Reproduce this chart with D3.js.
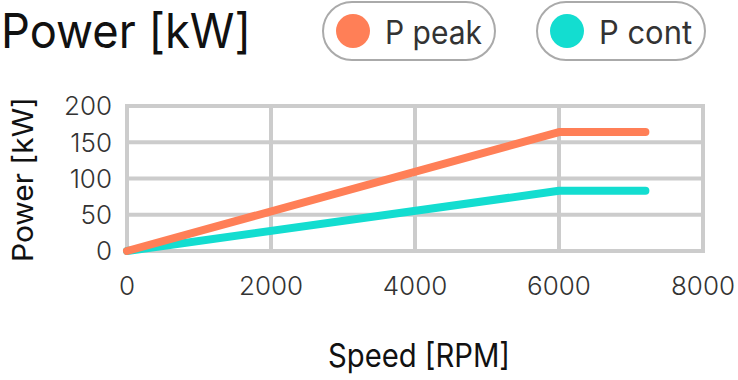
<!DOCTYPE html>
<html>
<head>
<meta charset="utf-8">
<script src="https://cdn.jsdelivr.net/npm/d3@7"></script>
<style>
  html, body { margin: 0; padding: 0; background: #fff; }
  svg { display: block; }
  text { font-family: Inter, "Noto Sans", sans-serif; }
</style>
</head>
<body>
<svg id="chart" width="738" height="380"></svg>
<script>
// ---- data ----
const speedRpm = [0, 6000, 7200];
const pPeak = [0, 164, 164];
const pCont = [0, 83, 83];
const xTicks = [0, 2000, 4000, 6000, 8000];
const yTicks = [0, 50, 100, 150, 200];
const seriesNames = ["P peak", "P cont"];
const seriesColors = ["#ff7f57", "#13ddd0"];
const titleText = "Power [kW]";
const xTitle = "Speed [RPM]";
const yTitle = "Power [kW]";

// ---- layout ----
const svg = d3.select("#chart");
const x = d3.scaleLinear().domain([0, 8000]).range([127, 703]);
const y = d3.scaleLinear().domain([0, 200]).range([251, 106]);

function sized(sel, size, targetWidth) {
  sel.attr("font-size", size).attr("textLength", targetWidth).attr("lengthAdjust", "spacingAndGlyphs");
}

// grid
const grid = svg.append("g").attr("stroke", "#cccccc").attr("stroke-width", 4).attr("stroke-linecap", "square");
grid.selectAll("line.h").data(yTicks).join("line").attr("class", "h")
  .attr("x1", x(0)).attr("x2", x(8000)).attr("y1", d => y(d)).attr("y2", d => y(d));
grid.selectAll("line.v").data(xTicks).join("line").attr("class", "v")
  .attr("x1", d => x(d)).attr("x2", d => x(d)).attr("y1", y(0)).attr("y2", y(200));

// tick labels
svg.append("g").selectAll("text").data(yTicks).join("text")
  .attr("x", 112).attr("y", d => y(d)).attr("dy", "0.36em")
  .attr("text-anchor", "end").attr("fill", "#333").attr("font-size", 26)
  .attr("font-weight", 300)
  .text(d => d);
svg.append("g").selectAll("text").data(xTicks).join("text")
  .attr("x", d => x(d)).attr("y", 295)
  .attr("text-anchor", "middle").attr("fill", "#333").attr("font-size", 26)
  .attr("font-weight", 300)
  .text(d => d);

// lines
const line = d3.line().x((d, i) => x(speedRpm[i])).y(d => y(d));
[[pCont, seriesColors[1]], [pPeak, seriesColors[0]]].forEach(([vals, col]) => {
  svg.append("path").datum(vals).attr("d", line)
    .attr("fill", "none").attr("stroke", col).attr("stroke-width", 8)
    .attr("stroke-linecap", "round").attr("stroke-linejoin", "round");
});

// title
const t = svg.append("text").attr("x", 1).attr("y", 48).attr("fill", "#111").text(titleText);
sized(t, 48, 250);

// axis titles
const xt = svg.append("text").attr("x", 328).attr("y", 367).attr("fill", "#111").text(xTitle);
sized(xt, 32, 182);
const yt = svg.append("text").attr("transform", "translate(33,262) rotate(-90)").attr("fill", "#111").text(yTitle);
sized(yt, 29, 165);

// legend
const legendBoxes = [
  { x0: 323, x1: 495, cx: 353, tx: 385, tw: 97 },
  { x0: 537, x1: 705, cx: 567, tx: 599, tw: 93 }
];
legendBoxes.forEach((b, i) => {
  const g = svg.append("g");
  g.append("rect").attr("x", b.x0).attr("y", 2).attr("width", b.x1 - b.x0).attr("height", 58)
    .attr("rx", 29).attr("fill", "#fff").attr("stroke", "#aaaaaa").attr("stroke-width", 2);
  g.append("circle").attr("cx", b.cx).attr("cy", 31).attr("r", 17).attr("fill", seriesColors[i]);
  const lt = g.append("text").attr("x", b.tx).attr("y", 44).attr("fill", "#333").text(seriesNames[i]);
  sized(lt, 32, b.tw);
});
</script>
</body>
</html>
